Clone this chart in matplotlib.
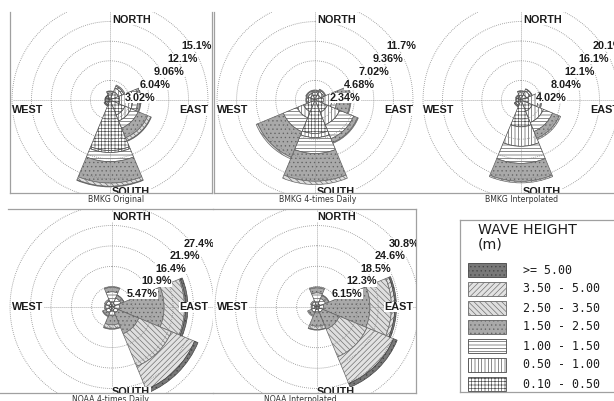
import numpy as np
import matplotlib.pyplot as plt
from matplotlib.patches import Rectangle
from matplotlib.lines import Line2D

plt.rcParams['hatch.linewidth'] = 0.45

W, H = 614, 401

# sector centres (compass bearing, 45 deg bins) and wave height classes
sectors = np.deg2rad(np.arange(0, 360, 45))
height_classes = ['0.10 - 0.50', '0.50 - 1.00', '1.00 - 1.50', '1.50 - 2.50',
                  '2.50 - 3.50', '3.50 - 5.00', '>= 5.00']

# frequency (%) per sector, rows N NE E SE S SW W NW, columns follow height_classes
bmkg_original = [
    [0.8, 0.3, 0.2, 0.1, 0.0, 0.0, 0.0],
    [1.4, 0.6, 0.3, 0.2, 0.0, 0.0, 0.0],
    [1.5, 2.0, 0.8, 0.4, 0.1, 0.0, 0.0],
    [2.5, 1.0, 1.2, 1.6, 0.5, 0.1, 0.0],
    [7.8, 0.3, 1.4, 3.3, 0.5, 0.1, 0.0],
    [0.6, 0.2, 0.1, 0.1, 0.0, 0.0, 0.0],
    [0.5, 0.2, 0.1, 0.0, 0.0, 0.0, 0.0],
    [0.5, 0.2, 0.1, 0.0, 0.0, 0.0, 0.0],
]
bmkg_4times = [
    [0.6, 0.3, 0.2, 0.1, 0.0, 0.0, 0.0],
    [0.7, 0.4, 0.2, 0.1, 0.0, 0.0, 0.0],
    [1.0, 1.0, 0.6, 1.6, 0.1, 0.0, 0.0],
    [1.6, 1.6, 1.8, 0.5, 0.1, 0.0, 0.0],
    [4.0, 0.5, 1.9, 3.3, 0.4, 0.0, 0.0],
    [1.5, 0.8, 1.8, 3.3, 0.2, 0.0, 0.0],
    [0.5, 0.3, 0.2, 0.1, 0.0, 0.0, 0.0],
    [0.6, 0.3, 0.2, 0.1, 0.0, 0.0, 0.0],
]
bmkg_interp = [
    [1.0, 0.5, 0.3, 0.1, 0.0, 0.0, 0.0],
    [1.2, 0.8, 0.4, 0.1, 0.0, 0.0, 0.0],
    [1.5, 2.0, 0.6, 0.2, 0.0, 0.0, 0.0],
    [2.5, 2.5, 2.0, 1.5, 0.3, 0.0, 0.0],
    [5.5, 4.0, 3.5, 3.7, 0.3, 0.0, 0.0],
    [0.8, 0.4, 0.2, 0.1, 0.0, 0.0, 0.0],
    [0.6, 0.3, 0.2, 0.0, 0.0, 0.0, 0.0],
    [0.7, 0.3, 0.2, 0.0, 0.0, 0.0, 0.0],
]
noaa_4times = [
    [0.5, 0.8, 2.8, 1.2, 0.2, 0.0, 0.0],
    [0.4, 0.6, 1.6, 0.8, 0.1, 0.0, 0.0],
    [0.3, 0.5, 1.2, 12.0, 5.5, 0.3, 0.6],
    [0.3, 0.5, 1.0, 6.0, 9.5, 6.7, 1.0],
    [0.4, 0.6, 1.3, 2.5, 1.0, 0.2, 0.0],
    [0.3, 0.5, 1.0, 0.8, 0.2, 0.0, 0.0],
    [0.3, 0.5, 0.9, 0.3, 0.0, 0.0, 0.0],
    [0.3, 0.5, 1.0, 0.4, 0.0, 0.0, 0.0],
]
noaa_interp = [
    [0.5, 0.8, 3.0, 1.5, 0.3, 0.0, 0.0],
    [0.4, 0.6, 1.8, 1.0, 0.2, 0.0, 0.0],
    [0.3, 0.5, 1.2, 14.0, 6.5, 1.0, 0.5],
    [0.3, 0.5, 1.0, 5.5, 9.0, 8.7, 1.2],
    [0.3, 0.5, 1.0, 4.0, 1.0, 0.2, 0.0],
    [0.3, 0.5, 1.0, 1.0, 0.3, 0.0, 0.0],
    [0.3, 0.4, 0.8, 0.3, 0.0, 0.0, 0.0],
    [0.3, 0.5, 0.9, 0.4, 0.0, 0.0, 0.0],
]

rings_bmkg_original = [3.02, 6.04, 9.06, 12.1, 15.1]
rings_bmkg_4times = [2.34, 4.68, 7.02, 9.36, 11.7]
rings_bmkg_interp = [4.02, 8.04, 12.1, 16.1, 20.1]
rings_noaa_4times = [5.47, 10.9, 16.4, 21.9, 27.4]
rings_noaa_interp = [6.15, 12.3, 18.5, 24.6, 30.8]

titles = ['BMKG Original', 'BMKG 4-times Daily', 'BMKG Interpolated',
          'NOAA 4-times Daily', 'NOAA Interpolated']

# fill style of each wave height class
class_face = ['white', 'white', 'white', '#a9a9a9', '#dedede', '#e2e2e2', '#787878']
class_hatch = ['+++++', '|||||', '-----', '....', '\\\\\\\\\\\\', '//////', '....']
class_edge = ['#4a4a4a', '#4a4a4a', '#4a4a4a', '#626262', '#686868', '#686868', '#444444']

bold = dict(family=['Liberation Sans', 'DejaVu Sans'], fontweight='bold',
            fontsize=7.8, color='#1c1c1c')

fig = plt.figure(figsize=(W / 100, H / 100), dpi=100)
fig.patch.set_facecolor('white')


def fx(px):
    return px / W


def fy(py):
    return 1 - py / H


def hline(x0, x1, y):
    fig.add_artist(Line2D([fx(x0), fx(x1)], [fy(y), fy(y)], transform=fig.transFigure,
                          color='#a0a0a0', lw=0.9))


def vline(x, y0, y1):
    fig.add_artist(Line2D([fx(x), fx(x)], [fy(y0), fy(y1)], transform=fig.transFigure,
                          color='#a0a0a0', lw=0.9))


panels = [
    dict(freq=bmkg_original, rings=rings_bmkg_original, center=(110, 100), R=98,
         clip=(10, 12, 212, 193), top=True, title_x=116),
    dict(freq=bmkg_4times, rings=rings_bmkg_4times, center=(315, 100), R=98,
         clip=(213, 12, 614, 193), top=True, title_x=318),
    dict(freq=bmkg_interp, rings=rings_bmkg_interp, center=(521, 100), R=98,
         clip=(213, 12, 614, 193), top=True, title_x=522),
    dict(freq=noaa_4times, rings=rings_noaa_4times, center=(112, 307), R=102,
         clip=(0, 209, 213, 393), top=False, title_x=110),
    dict(freq=noaa_interp, rings=rings_noaa_interp, center=(317, 307), R=102,
         clip=(213, 209, 416, 393), top=False, title_x=300),
]

for p, title in zip(panels, titles):
    cx, cy = p['center']
    R = p['R']
    ax = fig.add_axes([fx(cx - R), fy(cy + R), 2 * R / W, 2 * R / H], projection='polar')
    ax.set_theta_zero_location('N')
    ax.set_theta_direction(-1)
    ax.set_axis_off()
    rings = p['rings']
    rmax = rings[-1]
    ax.set_ylim(0, rmax)

    freq = np.array(p['freq'])
    base = np.zeros(len(sectors))
    for k in range(len(height_classes)):
        h = freq[:, k]
        m = h > 0
        if m.any():
            ax.bar(sectors[m], h[m], width=np.deg2rad(45), bottom=base[m],
                   facecolor=class_face[k], edgecolor=class_edge[k],
                   hatch=class_hatch[k], linewidth=0.5, zorder=2)
        base += h

    # dotted rings and compass cross
    theta = np.linspace(0, 2 * np.pi, 361)
    for r in rings:
        ax.plot(theta, np.full_like(theta, r), ls=(0, (1, 1.4)), color='#8c8c8c',
                lw=0.6, zorder=3)
    for t in np.deg2rad([0, 90, 180, 270]):
        ax.plot([t, t], [0, rmax], ls=(0, (1, 1.4)), color='#8c8c8c', lw=0.6, zorder=3)

    def to_ax(dx, dy):
        return 0.5 + dx / (2 * R), 0.5 + dy / (2 * R)

    # ring labels
    y0 = 2 if p['top'] else 13
    ystep = 13 if p['top'] else 12.6
    for i, r in enumerate(rings):
        x, y = to_ax(15 + 14.2 * i, y0 + ystep * i)
        ax.text(x, y, f'{r:g}%', transform=ax.transAxes, ha='left', va='center',
                zorder=5, clip_on=True,
                bbox=dict(facecolor='white', edgecolor='none', pad=0.3), **bold)

    # compass labels
    if p['top']:
        spots = [('NORTH', 2, 80, 'left'), ('SOUTH', 2, -92, 'left'),
                 ('EAST', 98, -10, 'right'), ('WEST', -98, -10, 'left')]
    else:
        spots = [('NORTH', 0, 90, 'left'), ('SOUTH', 0, -85, 'left'),
                 ('EAST', 96, 0, 'right'), ('WEST', -100, 0, 'left')]
    for s, dx, dy, ha in spots:
        x, y = to_ax(dx, dy)
        ax.text(x, y, s, transform=ax.transAxes, ha=ha, va='center', zorder=5,
                clip_on=True,
                bbox=dict(facecolor='white', edgecolor='none', pad=0.3), **bold)

    x0, y0c, x1, y1c = p['clip']
    box = Rectangle((fx(x0), fy(y1c)), (x1 - x0) / W, (y1c - y0c) / H,
                    transform=fig.transFigure, facecolor='none', edgecolor='none')
    for art in ax.patches + ax.lines + ax.texts:
        art.set_clip_path(box)

    ty = 200 if p['top'] else 399
    fig.text(fx(p['title_x']), fy(ty), title, ha='center', va='center',
             fontsize=5.6, color='#333333', family='DejaVu Sans')

# panel frames
vline(10, 12, 193)
vline(212, 12, 193)
vline(214, 12, 193)
hline(10, 212, 193)
hline(214, 614, 193)
hline(8, 213, 209)
hline(0, 213, 393)
hline(213, 416, 209)
hline(213, 416, 393)
vline(416, 209, 393)

# legend
lx0, ly0, lx1, ly1 = 460, 220, 614, 392
vline(lx0, ly0, ly1)
hline(lx0, lx1, ly1)
hline(lx0, lx1, ly0)
fig.text(fx(478), fy(230), 'WAVE HEIGHT', ha='left', va='center', fontsize=10.2,
         family='DejaVu Sans', color='#1c1c1c')
fig.text(fx(478), fy(245), '(m)', ha='left', va='center', fontsize=10.2,
         family='DejaVu Sans', color='#1c1c1c')
for i, k in enumerate(range(len(height_classes) - 1, -1, -1)):
    yc = 270 + 19 * i
    fig.add_artist(Rectangle((fx(468), fy(yc + 7)), 38 / W, 14 / H,
                             transform=fig.transFigure, facecolor=class_face[k],
                             edgecolor=class_edge[k], hatch=class_hatch[k], lw=0.6))
    fig.text(fx(523), fy(yc), height_classes[k], ha='left', va='center',
             fontsize=8.4, family='DejaVu Sans Mono', color='#1c1c1c')

fig.savefig('out.png', dpi=100, facecolor='white')
